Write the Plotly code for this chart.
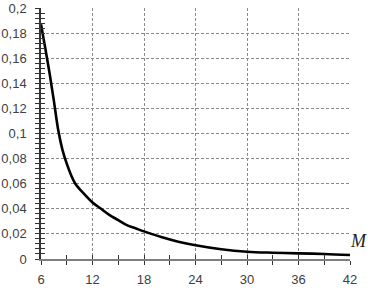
import plotly.graph_objects as go

M_values = [6, 6.5, 7, 7.5, 8, 8.5, 9, 9.5, 10, 11, 12, 13, 14, 15, 16, 17, 18,
            20, 22, 24, 27, 30, 33, 36, 39, 42]
P_values = [0.187, 0.168, 0.148, 0.126, 0.103, 0.087, 0.076, 0.067, 0.060, 0.052, 0.045,
            0.040, 0.035, 0.031, 0.027, 0.0245, 0.022, 0.0175, 0.0138, 0.011, 0.0078,
            0.0058, 0.005, 0.0045, 0.004, 0.0032]
x_ticks = [6, 12, 18, 24, 30, 36, 42]
y_ticks = [0, 0.02, 0.04, 0.06, 0.08, 0.1, 0.12, 0.14, 0.16, 0.18, 0.2]
x_label = "M"

fig = go.Figure()
fig.add_trace(go.Scatter(x=M_values, y=P_values, mode="lines",
                         line=dict(color="black", width=2.6, shape="spline", smoothing=1.0),
                         showlegend=False, hoverinfo="skip"))
# invisible trace for the overlay axes (inside half of crossing ticks)
fig.add_trace(go.Scatter(x=[6], y=[0], xaxis="x2", yaxis="y2", mode="markers",
                         marker=dict(opacity=0), showlegend=False, hoverinfo="skip"))

font = dict(family="Liberation Sans, Arial, sans-serif", size=13, color="#404040")
grid = dict(showgrid=True, gridcolor="#8a8a8a", gridwidth=1, griddash="3px,2px", zeroline=False)

fig.update_layout(
    width=368, height=288,
    margin=dict(l=41, r=18, t=8, b=29, autoexpand=False),
    paper_bgcolor="white", plot_bgcolor="white",
    separators=", ",
    font=font,
    xaxis=dict(range=[6, 42], tickvals=x_ticks, ticks="outside", ticklen=4, tickwidth=1,
               tickcolor="#333333", showline=True, linecolor="#7f7f7f", linewidth=2,
               ticklabelstandoff=3, automargin=False,
               minor=dict(dtick=3, tick0=0, ticks="outside", ticklen=4, tickcolor="#333333", showgrid=False),
               **grid),
    yaxis=dict(range=[0, 0.2], tickvals=y_ticks, ticks="outside", ticklen=4, tickwidth=1,
               tickcolor="#333333", showline=True, linecolor="#333333", linewidth=1.5,
               ticklabelstandoff=6, automargin=False,
               minor=dict(dtick=0.004, tick0=0, ticks="outside", ticklen=4, tickcolor="#333333", showgrid=False),
               **grid),
    xaxis2=dict(range=[6, 42], overlaying="x", anchor="y2", side="bottom", tickvals=x_ticks,
                ticks="inside", ticklen=4, tickcolor="#333333", showticklabels=False,
                showgrid=False, zeroline=False, automargin=False,
                minor=dict(dtick=3, tick0=0, ticks="inside", ticklen=4, tickcolor="#333333", showgrid=False)),
    yaxis2=dict(range=[0, 0.2], overlaying="y", anchor="x2", side="left", tickvals=y_ticks,
                ticks="inside", ticklen=4, tickcolor="#333333", showticklabels=False,
                showgrid=False, zeroline=False, automargin=False,
                minor=dict(dtick=0.004, tick0=0, ticks="inside", ticklen=4, tickcolor="#333333", showgrid=False)),
    annotations=[dict(text="<i>" + x_label + "</i>", xref="paper", yref="y", x=1, y=0.0145,
                      xanchor="left", yanchor="middle", xshift=-2, showarrow=False,
                      font=dict(family="Liberation Serif, Times New Roman, serif", size=18, color="#222222"))],
)

fig.write_html("out.html", config={"displayModeBar": False},
               post_script="document.body.style.margin='0';document.body.style.overflow='hidden';")
